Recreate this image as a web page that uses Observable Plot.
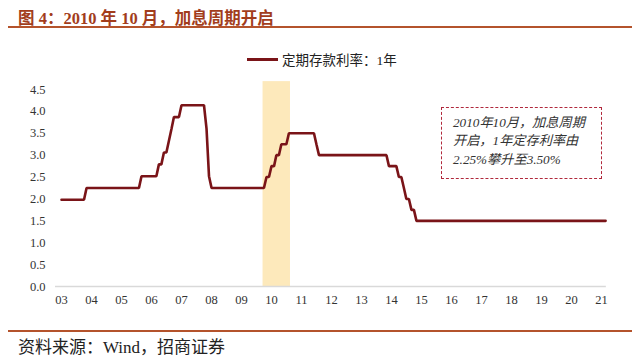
<!DOCTYPE html>
<html>
<head>
<meta charset="utf-8">
<script src="https://cdn.jsdelivr.net/npm/d3@7"></script>
<script src="https://cdn.jsdelivr.net/npm/@observablehq/plot@0.6"></script>
<style>
  html, body { margin: 0; padding: 0; background: #fff; }
  #wrap { position: relative; width: 640px; height: 359px; overflow: hidden; font-family: "Liberation Serif", "Noto Sans CJK SC", serif; }
  #title { position: absolute; left: 18px; top: 5px; font-size: 16.5px; font-weight: bold; color: #a23d1c; white-space: nowrap; }
  .rule { position: absolute; left: 8px; width: 624px; height: 2px; background: #b4532c; }
  #chart { position: absolute; left: 0; top: 30px; }
  #chart svg, #chart svg text { font-family: "Liberation Serif", "Noto Sans CJK SC", serif !important; }
  #legend { position: absolute; left: 247px; top: 49px; font-size: 13.5px; color: #222; white-space: nowrap; display: flex; align-items: center; }
  #legend .sw { display: inline-block; width: 31px; height: 3px; background: #7a1418; margin-right: 4px; }
  #note { position: absolute; left: 441px; top: 107px; width: 161px; height: 72px; border: 1px dashed #b0283c; box-sizing: border-box; padding: 6px 0 0 11px; font-size: 13.2px; line-height: 18.3px; font-style: italic; color: #333; white-space: nowrap; }
  #source { position: absolute; left: 18px; top: 333px; font-size: 17px; color: #222; white-space: nowrap; }
</style>
</head>
<body>
<div id="wrap">
  <div id="title"></div>
  <div class="rule" style="top:26px"></div>
  <div id="chart"></div>
  <div id="legend"><span class="sw"></span><span id="legendText"></span></div>
  <div id="note"></div>
  <div class="rule" style="top:330px"></div>
  <div id="source"></div>
</div>
<script>
// ---- texts ----
const titleText = "图 4：2010 年 10 月，加息周期开启";
const seriesName = "定期存款利率：1年";
const noteLines = ["2010年10月，加息周期", "开启，1年定存利率由", "2.25%攀升至3.50%"];
const sourceText = "资料来源：Wind，招商证券";

// ---- series: 1-year deposit rate (%) ----
const rateDates = [
  "2004-01-01","2004-10-01","2004-11-01","2006-08-01","2006-09-01",
  "2007-03-01","2007-04-01","2007-05-01","2007-06-01","2007-07-01",
  "2007-08-01","2007-09-01","2007-10-01","2007-12-01","2008-01-01",
  "2008-10-01","2008-11-01","2008-12-01","2009-01-01","2010-10-01",
  "2010-11-01","2010-12-01","2011-01-01","2011-02-01","2011-03-01",
  "2011-04-01","2011-05-01","2011-07-01","2011-08-01","2012-06-01",
  "2012-07-01","2012-08-01","2014-11-01","2014-12-01","2015-03-01",
  "2015-04-01","2015-05-01","2015-06-01","2015-07-01","2015-08-01",
  "2015-09-01","2015-10-01","2015-11-01","2022-02-20"
];
const rateValues = [
  1.98, 1.98, 2.25, 2.25, 2.52,
  2.52, 2.79, 2.79, 3.06, 3.06,
  3.33, 3.60, 3.87, 3.87, 4.14,
  4.14, 3.60, 2.52, 2.25, 2.25,
  2.50, 2.50, 2.75, 2.75, 3.00,
  3.00, 3.25, 3.25, 3.50, 3.50,
  3.25, 3.00, 3.00, 2.75, 2.75,
  2.50, 2.50, 2.25, 2.00, 2.00,
  1.75, 1.75, 1.50, 1.50
];

// ---- highlighted period ----
const bandStart = ["2010-09-20"];
const bandEnd = ["2011-08-20"];

// ---- axes ----
const xTickDates = ["2004-01-01","2005-01-01","2006-01-01","2007-01-01","2008-01-01","2009-01-01","2010-01-01","2011-01-01","2012-01-01","2013-01-01","2014-01-01","2015-01-01","2016-01-01","2017-01-01","2018-01-01","2019-01-01","2020-01-01","2021-01-01","2022-01-01"];
const xTickLabels = ["03","04","05","06","07","08","09","10","11","12","13","14","15","16","17","18","19","20","21"];
const yTicks = [0, 0.5, 1.0, 1.5, 2.0, 2.5, 3.0, 3.5, 4.0, 4.5];

// ---- build ----
document.getElementById("title").textContent = titleText;
document.getElementById("legendText").textContent = seriesName;
document.getElementById("note").innerHTML = noteLines.map(s => `<div>${s}</div>`).join("");
document.getElementById("source").textContent = sourceText;

const series = rateDates.map((d, i) => ({date: new Date(d), rate: rateValues[i]}));
const band = bandStart.map((s, i) => ({start: new Date(s), end: new Date(bandEnd[i])}));
const tickDates = xTickDates.map(d => new Date(d));
const labelByTime = new Map(tickDates.map((d, i) => [+d, xTickLabels[i]]));

const chart = Plot.plot({
  width: 640,
  height: 295,
  marginLeft: 61,
  marginRight: 39,
  marginTop: 59,
  marginBottom: 39,
  style: {fontFamily: "Liberation Serif", fontSize: "12.5px", color: "#333", background: "transparent"},
  x: {type: "utc", domain: [tickDates[0], tickDates[tickDates.length - 1]], ticks: tickDates, tickFormat: d => labelByTime.get(+d) ?? "", tickSize: 0, tickPadding: 9, label: null},
  y: {domain: [0, 4.5], ticks: yTicks, tickFormat: d => d.toFixed(1), tickSize: 0, tickPadding: 16, label: null},
  marks: [
    Plot.rect(band, {x1: "start", x2: "end", y1: 0, y2: 4.68, fill: "#fde9bb"}),
    Plot.ruleY([0], {x1: new Date("2003-10-20"), x2: new Date("2022-03-01"), stroke: "#d9d9d9", strokeWidth: 1.5}),
    Plot.line(series, {x: "date", y: "rate", stroke: "#7a1418", strokeWidth: 2.6, strokeLinejoin: "miter"})
  ]
});
document.getElementById("chart").appendChild(chart);
</script>
</body>
</html>
